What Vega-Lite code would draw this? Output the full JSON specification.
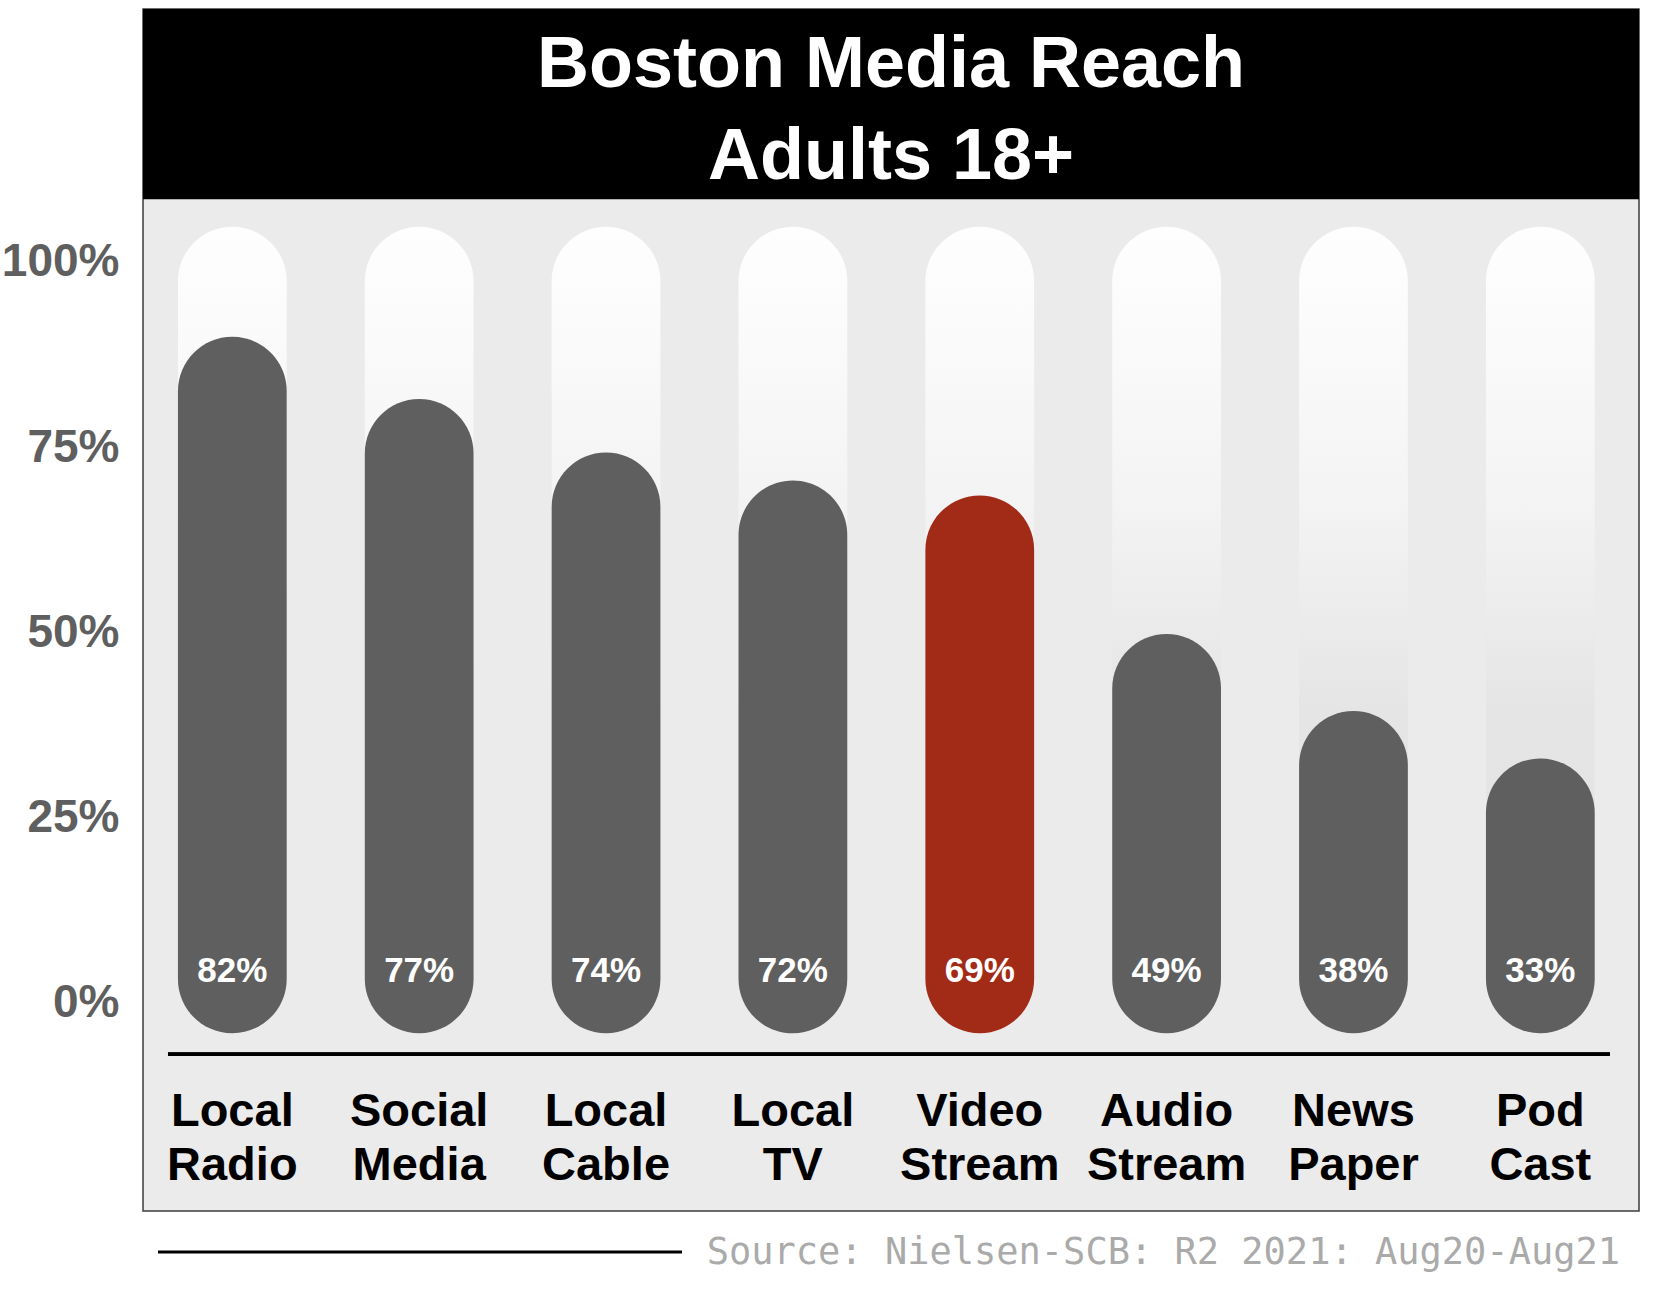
{
  "$schema": "https://vega.github.io/schema/vega-lite/v6.json",
  "width": 1496,
  "height": 1202,
  "autosize": {"type": "none"},
  "padding": {"left": 143, "top": 9, "right": 29, "bottom": 81},
  "background": "#ffffff",
  "config": {
    "view": {"fill": "#ebebeb", "stroke": "#3c3c3c", "strokeWidth": 1.5},
    "font": "Liberation Sans",
    "axisX": {
      "offset": -100,
      "labelPadding": 0,
      "ticks": false,
      "domain": false,
      "grid": false,
      "labelFontSize": 47,
      "labelFontWeight": "bold",
      "labelColor": "#000000",
      "labelLineHeight": 54,
      "labelBaseline": "middle",
      "labelAlign": "center",
      "labelAngle": 0,
      "labelOverlap": false
    },
    "axisY": {
      "ticks": false,
      "domain": false,
      "grid": false,
      "labelPadding": 24,
      "labelFontSize": 46,
      "labelFontWeight": "bold",
      "labelColor": "#5f5f5f",
      "labelBaseline": "middle",
      "labelOffset": 3
    }
  },
  "data": {
    "values": [
      {"media": "Local Radio", "reach": 0.82, "bar": 0.895},
      {"media": "Social Media", "reach": 0.77, "bar": 0.811},
      {"media": "Local Cable", "reach": 0.74, "bar": 0.739},
      {"media": "Local TV", "reach": 0.72, "bar": 0.701},
      {"media": "Video Stream", "reach": 0.69, "bar": 0.681},
      {"media": "Audio Stream", "reach": 0.49, "bar": 0.494},
      {"media": "News Paper", "reach": 0.38, "bar": 0.39},
      {"media": "Pod Cast", "reach": 0.33, "bar": 0.326}
    ]
  },
  "layer": [
    {
      "mark": {
        "type": "bar",
        "cornerRadius": 54.4,
        "color": {
          "gradient": "linear",
          "x1": 0, "y1": 0, "x2": 0, "y2": 1,
          "stops": [
            {"offset": 0, "color": "#fefefe"},
            {"offset": 0.15, "color": "#fafafa"},
            {"offset": 0.35, "color": "#f3f3f3"},
            {"offset": 0.6, "color": "#e5e5e5"},
            {"offset": 1, "color": "#e3e3e3"}
          ]
        }
      },
      "encoding": {
        "x": {
          "field": "media",
          "type": "nominal",
          "sort": null,
          "title": null,
          "scale": {
            "domain": ["Local Radio", "Social Media", "Local Cable", "Local TV", "Video Stream", "Audio Stream", "News Paper", "Pod Cast"],
            "paddingInner": 0.418,
            "paddingOuter": 0.212,
            "align": 0.441
          },
          "axis": {"labelExpr": "split(datum.label, ' ')"}
        },
        "y": {
          "datum": 1.0436,
          "type": "quantitative",
          "title": null,
          "scale": {"domain": [-0.28475, 1.33738], "nice": false, "zero": false},
          "axis": {"values": [0, 0.25, 0.5, 0.75, 1], "format": ".0%"}
        },
        "y2": {"datum": -0.0449}
      }
    },
    {
      "mark": {"type": "bar", "cornerRadius": 54.4},
      "encoding": {
        "x": {"field": "media", "type": "nominal", "sort": null, "title": null},
        "y": {"field": "bar", "type": "quantitative", "title": null},
        "y2": {"datum": -0.0449},
        "color": {
          "condition": {"test": "datum.media === 'Video Stream'", "value": "#a22b17"},
          "value": "#5f5f5f"
        }
      }
    },
    {
      "mark": {"type": "text", "color": "#ffffff", "fontSize": 35, "fontWeight": "bold", "baseline": "middle", "align": "center"},
      "encoding": {
        "x": {"field": "media", "type": "nominal", "sort": null, "title": null},
        "y": {"datum": 0.039, "type": "quantitative", "title": null},
        "text": {"field": "reach", "type": "quantitative", "format": ".0%"}
      }
    },
    {
      "mark": {"type": "rule", "color": "#000000", "strokeWidth": 3},
      "encoding": {
        "x": {"datum": "Local Radio", "bandPosition": -0.0914, "title": null},
        "x2": {"datum": "Pod Cast", "bandPosition": 1.1406},
        "y": {"datum": -0.0733, "type": "quantitative", "title": null}
      }
    },
    {
      "data": {"values": [{"title": "Boston Media Reach\nAdults 18+"}]},
      "layer": [
        {
          "mark": {"type": "rect", "color": "#000000"},
          "encoding": {
            "y": {"datum": 1.0806, "type": "quantitative", "title": null},
            "y2": {"datum": 1.3374}
          }
        },
        {
          "mark": {"type": "text", "color": "#ffffff", "fontSize": 72, "fontWeight": "bold", "lineBreak": "\n", "lineHeight": 92, "baseline": "middle", "align": "center"},
          "encoding": {
            "y": {"datum": 1.2618, "type": "quantitative", "title": null},
            "text": {"field": "title", "type": "nominal"}
          }
        }
      ]
    },
    {
      "data": {"values": [{"source": "Source: Nielsen-SCB: R2 2021: Aug20-Aug21"}]},
      "layer": [
        {
          "mark": {"type": "rule", "color": "#000000", "strokeWidth": 3},
          "encoding": {
            "x": {"datum": "Local Radio", "bandPosition": -0.1834, "title": null},
            "x2": {"datum": "Local Cable", "bandPosition": 1.1985},
            "y": {"datum": -0.3401, "type": "quantitative", "title": null}
          }
        },
        {
          "mark": {"type": "text", "color": "#aaaaaa", "font": "DejaVu Sans Mono", "fontSize": 37, "align": "right", "baseline": "middle"},
          "encoding": {
            "x": {"datum": "Pod Cast", "bandPosition": 1.2326, "title": null},
            "y": {"datum": -0.3408, "type": "quantitative", "title": null},
            "text": {"field": "source", "type": "nominal"}
          }
        }
      ]
    }
  ]
}
